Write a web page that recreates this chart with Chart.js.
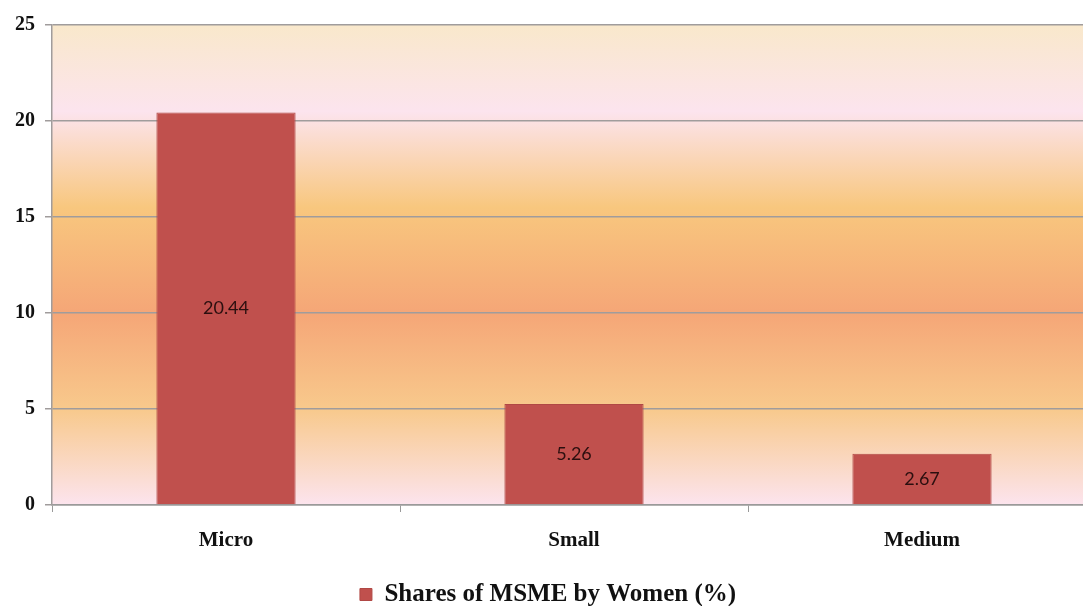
<!DOCTYPE html>
<html>
<head>
<meta charset="utf-8">
<script src="https://cdn.jsdelivr.net/npm/chart.js@4"></script>
<style>
  html, body { margin: 0; padding: 0; background: #fff; overflow: hidden; }
  #wrap { width: 1100px; height: 606px; }
</style>
</head>
<body>
<div id="wrap"><canvas id="bar-chart" width="1100" height="606"></canvas></div>
<script>
var categories = ["Micro", "Small", "Medium"];
var shares = [20.44, 5.26, 2.67];
var seriesName = "Shares of MSME by Women (%)";
var yTicks = [0, 5, 10, 15, 20, 25];

var serif = "'Liberation Serif', 'Times New Roman', serif";

// background band behind the plot, like the old office gradient fill
var plotFill = {
  id: 'plotFill',
  beforeDraw: function(chart) {
    var a = chart.chartArea, ctx = chart.ctx;
    var g = ctx.createLinearGradient(0, a.top, 0, a.bottom);
    g.addColorStop(0, '#F9E8CB');
    g.addColorStop(0.18, '#FCE4EE');
    g.addColorStop(0.38, '#F8C77E');
    g.addColorStop(0.6, '#F5A677');
    g.addColorStop(0.8, '#F8C98C');
    g.addColorStop(1, '#FCE4EE');
    ctx.save();
    ctx.fillStyle = g;
    ctx.fillRect(a.left, a.top, a.right - a.left, a.bottom - a.top);
    ctx.restore();
  }
};

// value printed in the middle of each bar
var midLabels = {
  id: 'midLabels',
  afterDatasetsDraw: function(chart) {
    var ctx = chart.ctx;
    var meta = chart.getDatasetMeta(0);
    ctx.save();
    ctx.font = "18px Lato, 'Open Sans', sans-serif";
    ctx.fillStyle = '#2B0F0F';
    ctx.textAlign = 'center';
    ctx.textBaseline = 'middle';
    meta.data.forEach(function(bar, i) {
      ctx.fillText(shares[i].toFixed(2), bar.x, (bar.y + bar.base) / 2);
    });
    ctx.restore();
  }
};

new Chart(document.getElementById("bar-chart"), {
  type: 'bar',
  data: {
    labels: categories,
    datasets: [{
      label: seriesName,
      data: shares,
      backgroundColor: '#C0504D',
      borderColor: '#B04845',
      borderWidth: 1,
      barPercentage: 0.4,
      categoryPercentage: 1.0
    }]
  },
  options: {
    responsive: false,
    animation: false,
    layout: { padding: { top: 25, right: 4, left: 0, bottom: -11 } },
    plugins: {
      tooltip: { enabled: false },
      legend: {
        position: 'bottom',
        labels: {
          boxWidth: 12,
          boxHeight: 12,
          padding: 2,
          color: '#111',
          font: { family: serif, size: 25, weight: 'bold' }
        }
      }
    },
    scales: {
      x: {
        afterFit: function(scale) { scale.height = 75; },
        grid: { drawOnChartArea: false, drawTicks: true, tickLength: 7, color: '#9A9A9A' },
        border: { color: '#9A9A9A', width: 1.5 },
        ticks: { color: '#111', padding: 16, font: { family: serif, size: 21, weight: 'bold' } }
      },
      y: {
        min: 0,
        max: 25,
        afterFit: function(scale) { scale.width = 52; },
        afterBuildTicks: function(scale) {
          scale.ticks = yTicks.map(function(v) { return { value: v }; });
        },
        grid: { color: '#A09C9C', lineWidth: 1.5, tickLength: 7 },
        border: { color: '#A09C9C', width: 1.5 },
        ticks: { color: '#111', padding: 10, font: { family: serif, size: 20, weight: 'bold' } }
      }
    }
  },
  plugins: [plotFill, midLabels]
});
</script>
</body>
</html>
